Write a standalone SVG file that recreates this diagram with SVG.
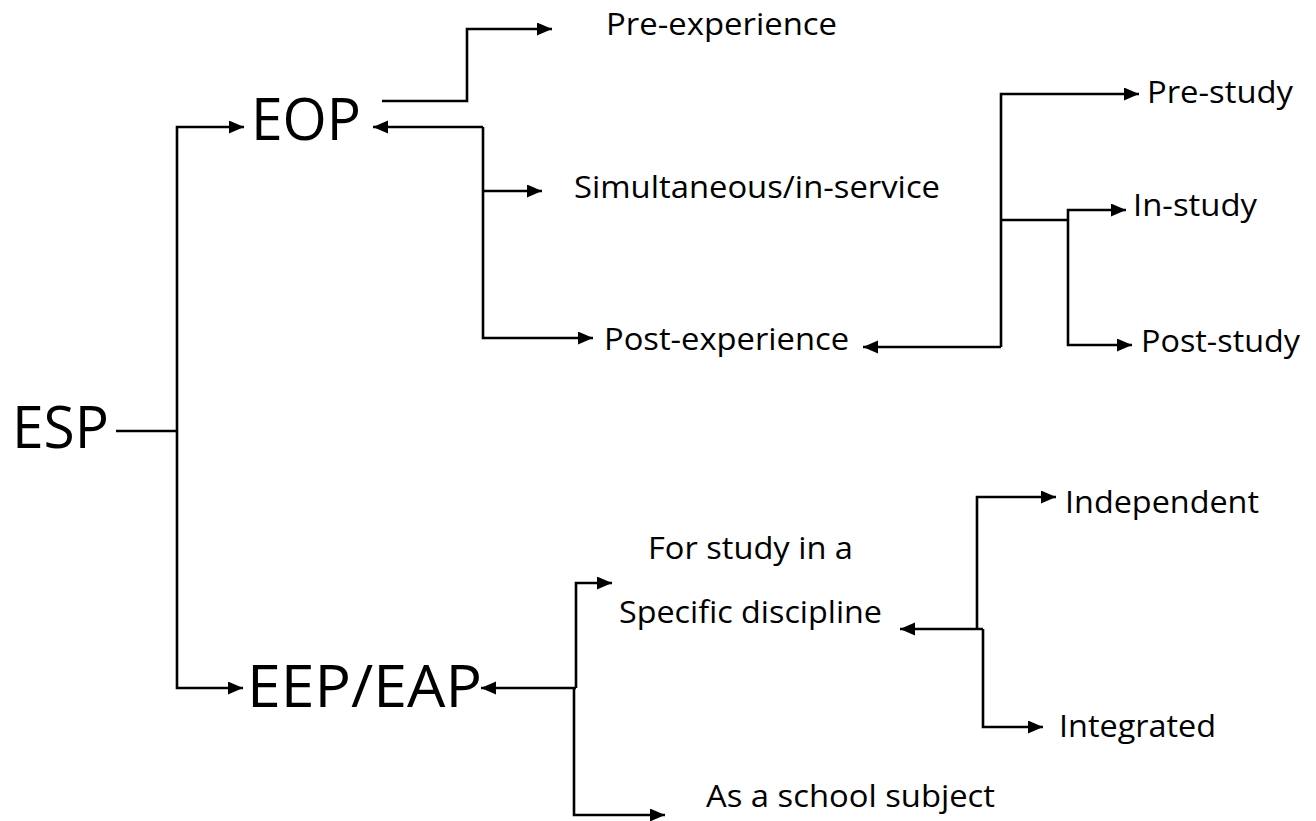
<svg xmlns="http://www.w3.org/2000/svg" width="1316" height="821" viewBox="0 0 1316 821">
  <style>
    .big { font-family: "Open Sans", Lato, "Liberation Sans", sans-serif; font-size: 59px; fill: #000; }
    .lbl { font-family: "Open Sans", Lato, "Liberation Sans", sans-serif; font-size: 31px; fill: #000; }
    .conn path { fill: none; stroke: #000; stroke-width: 2.6; stroke-linejoin: miter; }
  </style>
  <defs>
    <marker id="arr" markerUnits="userSpaceOnUse" markerWidth="17" markerHeight="14" refX="15" refY="6.5" orient="auto">
      <path d="M0,0 L15,6.5 L0,13 Z" fill="#000"/>
    </marker>
  </defs>
  <rect width="1316" height="821" fill="#fff"/>

  <g id="connectors" class="conn">
    <path d="M116 431 H177"/>
    <path d="M177 431 V127 H244" marker-end="url(#arr)"/>
    <path d="M177 431 V688 H243" marker-end="url(#arr)"/>
    <path d="M382 101 H467 V29 H552" marker-end="url(#arr)"/>
    <path d="M483 127 H373" marker-end="url(#arr)"/>
    <path d="M483 127 V338 H593" marker-end="url(#arr)"/>
    <path d="M483 191 H542" marker-end="url(#arr)"/>
    <path d="M1001 347 H863" marker-end="url(#arr)"/>
    <path d="M1001 347 V94 H1139" marker-end="url(#arr)"/>
    <path d="M1001 220 H1068"/>
    <path d="M1068 220 V210 H1126" marker-end="url(#arr)"/>
    <path d="M1068 220 V345 H1132" marker-end="url(#arr)"/>
    <path d="M576 688 H481" marker-end="url(#arr)"/>
    <path d="M576 688 V583 H612" marker-end="url(#arr)"/>
    <path d="M574 688 V815 H665" marker-end="url(#arr)"/>
    <path d="M983 629 H900" marker-end="url(#arr)"/>
    <path d="M977 629 V497 H1056" marker-end="url(#arr)"/>
    <path d="M983 629 V727 H1043" marker-end="url(#arr)"/>
  </g>

  <g id="esp"><text class="big" x="12" y="448" textLength="97" lengthAdjust="spacingAndGlyphs">ESP</text></g>
  <g id="eop"><text class="big" x="251" y="140" textLength="110" lengthAdjust="spacingAndGlyphs">EOP</text></g>
  <g id="eep-eap"><text class="big" x="247" y="707" textLength="235" lengthAdjust="spacingAndGlyphs">EEP/EAP</text></g>

  <g id="pre-experience"><text class="lbl" x="606" y="35" textLength="231" lengthAdjust="spacingAndGlyphs">Pre-experience</text></g>
  <g id="simultaneous"><text class="lbl" x="574" y="198" textLength="366" lengthAdjust="spacingAndGlyphs">Simultaneous/in-service</text></g>
  <g id="post-experience"><text class="lbl" x="604" y="350" textLength="245" lengthAdjust="spacingAndGlyphs">Post-experience</text></g>

  <g id="pre-study"><text class="lbl" x="1147" y="103" textLength="146" lengthAdjust="spacingAndGlyphs">Pre-study</text></g>
  <g id="in-study"><text class="lbl" x="1133" y="216" textLength="124" lengthAdjust="spacingAndGlyphs">In-study</text></g>
  <g id="post-study"><text class="lbl" x="1141" y="352" textLength="159" lengthAdjust="spacingAndGlyphs">Post-study</text></g>

  <g id="for-study"><text class="lbl" x="648" y="559" textLength="205" lengthAdjust="spacingAndGlyphs">For study in a</text><text class="lbl" x="619" y="623" textLength="263" lengthAdjust="spacingAndGlyphs">Specific discipline</text></g>
  <g id="school-subject"><text class="lbl" x="706" y="807" textLength="289" lengthAdjust="spacingAndGlyphs">As a school subject</text></g>

  <g id="independent"><text class="lbl" x="1065" y="513" textLength="194" lengthAdjust="spacingAndGlyphs">Independent</text></g>
  <g id="integrated"><text class="lbl" x="1059" y="737" textLength="157" lengthAdjust="spacingAndGlyphs">Integrated</text></g>
</svg>
